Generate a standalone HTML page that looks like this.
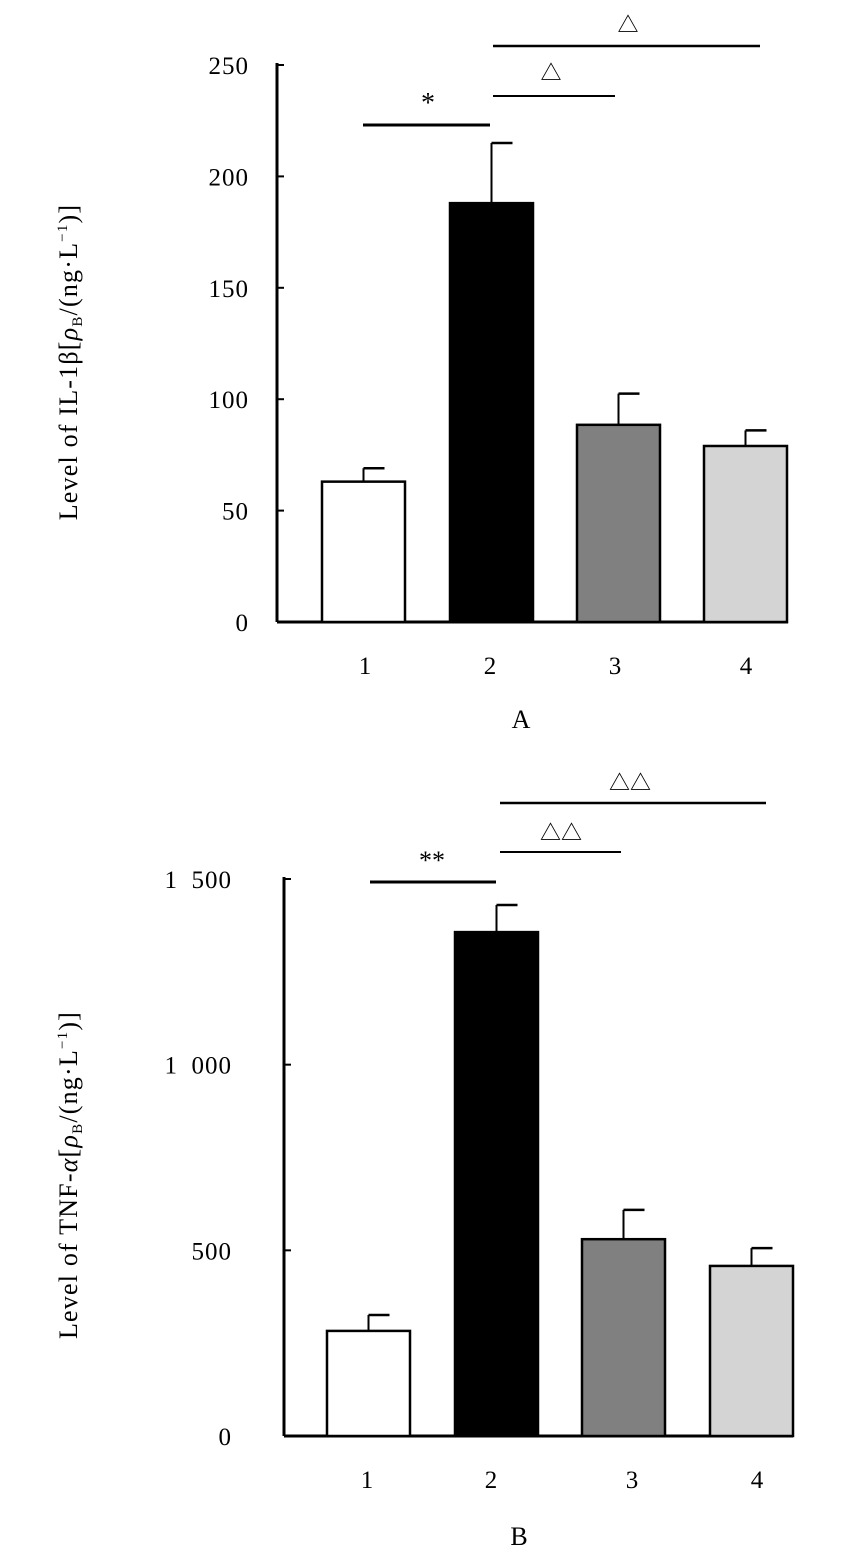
<!DOCTYPE html>
<html><head><meta charset="utf-8"><style>
body{margin:0;background:#fff}
svg{display:block;font-family:"Liberation Serif","Noto Serif CJK SC",serif}
</style></head><body>
<svg id="s" width="851" height="1557" viewBox="0 0 851 1557"></svg>
<script>
const categories=["1","2","3","4"];
const fills=["#fff","#000","#808080","#d4d4d4"];
const valuesA=[63,188,88.5,79];
const errorsA=[6,27,14,7];
const ticksA=[0,50,100,150,200,250];
const valuesB=[283,1357,530,458];
const errorsB=[43,73,79,48];
const ticksB=[0,500,1000,1500];
const tickLabelsB=["0","500","1\u2002000","1\u2002500"];
const NS="http://www.w3.org/2000/svg";
const svg=document.getElementById('s');
function el(t,a,p){const e=document.createElementNS(NS,t);for(const k in a)e.setAttribute(k,a[k]);(p||svg).appendChild(e);return e;}
function chart(o){
  const g=el('g',{});
  
  
  const y=v=>o.y0-(v/o.max)*(o.y0-o.yTop);
  const ax=el('line',{x1:o.ax,y1:o.yTop-2,x2:o.ax,y2:o.y0,stroke:'#000','stroke-width':3},g);
  
  const xa=el('line',{x1:o.ax,y1:o.y0,x2:o.xEnd,y2:o.y0,stroke:'#000','stroke-width':3},g);
  
  o.ticks.forEach((t,i)=>{
    el('line',{x1:o.ax,y1:y(t),x2:o.ax+7,y2:y(t),stroke:'#000','stroke-width':2},g);
    const tx=el('text',{x:o.tickX,y:y(t)+9,'font-size':25,'text-anchor':'end','letter-spacing':1},g);
    tx.textContent=o.tickLabels?o.tickLabels[i]:t;
    
  });
  categories.forEach((c,i)=>{
    const x0=o.barX[i],w=83;
    const top=y(o.vals[i]),et=y(o.vals[i]+o.errs[i]);
    el('line',{x1:x0+w/2,y1:top,x2:x0+w/2,y2:et,stroke:'#000','stroke-width':2},g);
    el('line',{x1:x0+w/2,y1:et,x2:x0+w/2+21,y2:et,stroke:'#000','stroke-width':2.5},g);
    const r=el('rect',{x:x0,y:top,width:w,height:o.y0-top,fill:fills[i],stroke:'#000','stroke-width':2.5},g);
    
    const lt=el('text',{x:o.labX[i],y:o.y0+52,'font-size':25,'text-anchor':'middle'},g);
    lt.textContent=c;
    
  });
  const yt=el('text',{x:0,y:0,'font-size':26,'letter-spacing':1.2,'text-anchor':'middle',transform:`translate(${o.titleX},${o.titleY}) rotate(-90)`},g);
  yt.innerHTML=o.title;
  
  const pl=el('text',{x:o.panelX,y:o.panelY,'font-size':26,'text-anchor':'middle'},g);
  pl.textContent=o.panel;
  
  o.sig.forEach(s=>{
    el('line',{x1:s[0],y1:s[2],x2:s[1],y2:s[2],stroke:'#000','stroke-width':s[5]},g);
    const st=el('text',{x:s[3],y:s[4],'font-size':s[6],'text-anchor':'middle'},g);
    st.textContent=s[7];
    
  });
}
chart({name:'chart-a',ax:277,y0:622,yTop:65,max:250,xEnd:788,tickX:249,ticks:ticksA,vals:valuesA,errs:errorsA,
 barX:[322,450,577,704],labX:[365,490,615,746],
 title:'Level of IL-1β[<tspan font-style="italic">ρ</tspan><tspan font-size="15" dy="5">B</tspan><tspan dy="-5">/(ng·L</tspan><tspan font-size="15" dy="-10">−1</tspan><tspan dy="10">)]</tspan>',
 titleX:77,titleY:362,panel:'A',panelX:521,panelY:728,
 sig:[[363,490,125,428,112,3,28,'*'],[493,615,96,551,80,2,21,'△'],[493,760,46,628,32,2.5,21,'△']]});
chart({name:'chart-b',ax:284,y0:1436,yTop:879,max:1500,xEnd:793,tickX:232,ticks:ticksB,tickLabels:tickLabelsB,vals:valuesB,errs:errorsB,
 barX:[327,455,582,710],labX:[367,491,632,757],
 title:'Level of TNF-<tspan font-style="italic">α</tspan>[<tspan font-style="italic">ρ</tspan><tspan font-size="15" dy="5">B</tspan><tspan dy="-5">/(ng·L</tspan><tspan font-size="15" dy="-10">−1</tspan><tspan dy="10">)]</tspan>',
 titleX:77,titleY:1175,panel:'B',panelX:519,panelY:1545,
 sig:[[370,496,882,432,869,3,26,'**'],[500,621,852,561,840,2,21,'△△'],[500,766,803,630,790,2.5,21,'△△']]});
</script>
</body></html>
